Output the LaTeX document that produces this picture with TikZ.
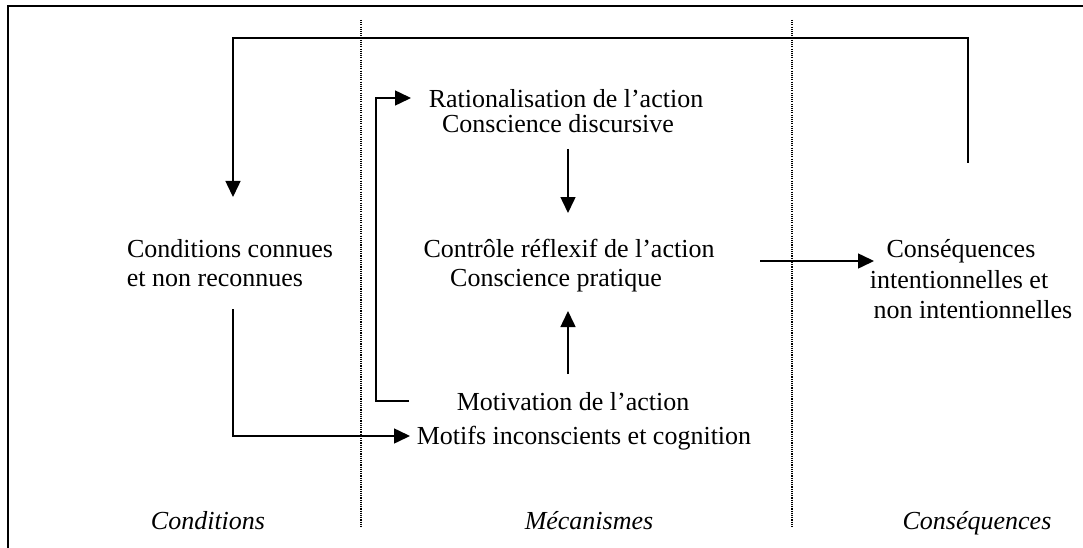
\documentclass[tikz,border=0pt]{standalone}
\usepackage{fontspec}
\setmainfont{Liberation Serif}
\usetikzlibrary{arrows.meta}
\tikzset{
  lbl/.style={anchor=base, inner sep=0pt, font=\fontsize{26}{31}\selectfont},
  ital/.style={lbl, font=\fontsize{26}{31}\selectfont\itshape},
  conn/.style={line width=1.5pt, line cap=butt, line join=miter},
  arr/.style={conn, -{Triangle[length=16pt,width=15pt]}},
  sep/.style={line width=1.1pt, dash pattern=on 1.1pt off 1.1pt},
  frame/.style={line width=2.4pt}
}
\begin{document}
\begin{tikzpicture}[x=1pt,y=-1pt]
\useasboundingbox (0,0) rectangle (1083,548);
\clip (0,0) rectangle (1083,548);
\fill[white] (0,0) rectangle (1083,548);
% frame (right and bottom edges lie outside the picture)
\draw[frame] (8,560) -- (8,6) -- (1095,6);
% column separators
\draw[sep] (361,20) -- (361,528);
\draw[sep] (792,20) -- (792,528);
% texts
\node[lbl] (rat1) at (566,108) {Rationalisation de l’action};
\node[lbl] (rat2) at (558,133) {Conscience discursive};
\node[lbl] (ctl1) at (569,257) {Contrôle réflexif de l’action};
\node[lbl] (ctl2) at (556,286) {Conscience pratique};
\node[lbl] (mot1) at (573,410) {Motivation de l’action};
\node[lbl] (mot2) at (584,444) {Motifs inconscients et cognition};
\node[lbl] (cnd1) at (230,257) {Conditions connues};
\node[lbl] (cnd2) at (215,286) {et non reconnues};
\node[lbl] (csq1) at (961,257) {Conséquences};
\node[lbl] (csq2) at (959,288) {intentionnelles et};
\node[lbl] (csq3) at (973,318) {non intentionnelles};
\node[ital] (hcond) at (208,529) {Conditions};
\node[ital] (hmeca) at (589,529) {Mécanismes};
\node[ital] (hcons) at (977,529) {Conséquences};
% connector end points
\coordinate (fbA) at (968,163);
\coordinate (fbB) at (968,38);
\coordinate (fbC) at (233,38);
\coordinate (fbD) at (233,197);
\coordinate (mrA) at (409,401);
\coordinate (mrB) at (376,401);
\coordinate (mrC) at (376,98);
\coordinate (mrD) at (411,98);
\coordinate (rcA) at (568,149);
\coordinate (rcB) at (568,213);
\coordinate (mcA) at (568,374);
\coordinate (mcB) at (568,311);
\coordinate (cmA) at (233,309);
\coordinate (cmB) at (233,436);
\coordinate (cmC) at (410,436);
\coordinate (ccA) at (760,261);
\coordinate (ccB) at (874,261);
% connectors
\draw[arr] (fbA) -- (fbB) -- (fbC) -- (fbD);
\draw[arr] (mrA) -- (mrB) -- (mrC) -- (mrD);
\draw[arr] (rcA) -- (rcB);
\draw[arr] (mcA) -- (mcB);
\draw[arr] (cmA) -- (cmB) -- (cmC);
\draw[arr] (ccA) -- (ccB);
\end{tikzpicture}
\end{document}
